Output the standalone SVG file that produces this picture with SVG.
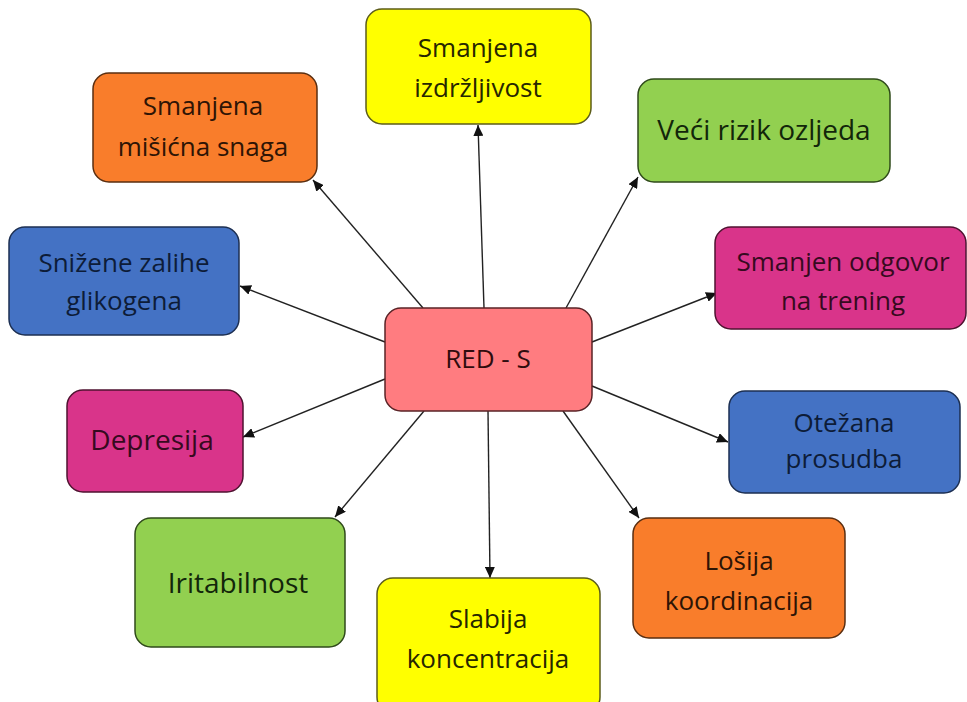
<svg xmlns="http://www.w3.org/2000/svg" width="967" height="702" viewBox="0 0 967 702">
<style>
.box{stroke-width:1.5}
.yel{fill:#FFFF00;stroke:#5c5c1a}
.org{fill:#F97D2B;stroke:#5a2e10}
.grn{fill:#92D050;stroke:#2f4a1a}
.blu{fill:#4472C4;stroke:#1c2f52}
.mag{fill:#D9348A;stroke:#4f1230}
.pnk{fill:#FF7C80;stroke:#5a2326}
text{font-family:"Open Sans","Noto Sans",sans-serif;font-size:26px;text-anchor:middle}
.t1{font-size:28px}
.yel-t{fill:#262600}
.org-t{fill:#2e1405}
.grn-t{fill:#12260a}
.blu-t{fill:#0d1c38}
.mag-t{fill:#360a20}
.pnk-t{fill:#300c0e}
.conn line{stroke:#222;stroke-width:1.4;marker-end:url(#arr)}
</style>
<defs>
<marker id="arr" markerUnits="userSpaceOnUse" markerWidth="12" markerHeight="10" refX="11" refY="5" orient="auto">
<path d="M0,0 L11,5 L0,10 Z" fill="#111"/>
</marker>
</defs>
<rect width="967" height="702" fill="#ffffff"/>
<g id="connectors" class="conn">
<line x1="484" y1="308" x2="478" y2="125"/>
<line x1="566" y1="308" x2="638" y2="177"/>
<line x1="423" y1="308" x2="313" y2="180"/>
<line x1="385" y1="342" x2="240" y2="286"/>
<line x1="592" y1="342" x2="717" y2="293"/>
<line x1="385" y1="379" x2="243" y2="437"/>
<line x1="592" y1="386" x2="728" y2="442"/>
<line x1="424" y1="411" x2="335" y2="517"/>
<line x1="488" y1="411" x2="490" y2="578"/>
<line x1="563" y1="411" x2="639" y2="518"/>
</g>
<g id="node-izdrzljivost">
<rect class="box yel" x="366" y="9" width="225" height="115" rx="16"/>
<text class="yel-t" x="478" y="57">Smanjena</text>
<text class="yel-t" x="478" y="97">izdržljivost</text>
</g>
<g id="node-misicna">
<rect class="box org" x="93" y="73" width="224" height="109" rx="16"/>
<text class="org-t" x="203" y="115">Smanjena</text>
<text class="org-t" x="203" y="156">mišićna snaga</text>
</g>
<g id="node-rizik">
<rect class="box grn" x="638" y="79" width="252" height="103" rx="16"/>
<text class="t1 grn-t" x="764" y="140">Veći rizik ozljeda</text>
</g>
<g id="node-glikogen">
<rect class="box blu" x="9" y="227" width="230" height="108" rx="16"/>
<text class="blu-t" x="124" y="272">Snižene zalihe</text>
<text class="blu-t" x="124" y="310">glikogena</text>
</g>
<g id="node-odgovor">
<rect class="box mag" x="715" y="227" width="251" height="102" rx="16"/>
<text class="mag-t" x="843" y="271">Smanjen odgovor</text>
<text class="mag-t" x="843" y="310">na trening</text>
</g>
<g id="node-reds">
<rect class="box pnk" x="385" y="308" width="207" height="103" rx="16"/>
<text class="pnk-t" x="488" y="368">RED - S</text>
</g>
<g id="node-depresija">
<rect class="box mag" x="67" y="390" width="176" height="102" rx="16"/>
<text class="t1 mag-t" x="152" y="450">Depresija</text>
</g>
<g id="node-prosudba">
<rect class="box blu" x="729" y="391" width="231" height="102" rx="16"/>
<text class="blu-t" x="844" y="432">Otežana</text>
<text class="blu-t" x="844" y="468">prosudba</text>
</g>
<g id="node-iritabilnost">
<rect class="box grn" x="135" y="518" width="210" height="129" rx="16"/>
<text class="t1 grn-t" x="238" y="593">Iritabilnost</text>
</g>
<g id="node-koncentracija">
<rect class="box yel" x="377" y="578" width="223" height="135" rx="16"/>
<text class="yel-t" x="488" y="628">Slabija</text>
<text class="yel-t" x="488" y="668">koncentracija</text>
</g>
<g id="node-koordinacija">
<rect class="box org" x="633" y="518" width="212" height="120" rx="16"/>
<text class="org-t" x="739" y="570">Lošija</text>
<text class="org-t" x="739" y="610">koordinacija</text>
</g>
</svg>
